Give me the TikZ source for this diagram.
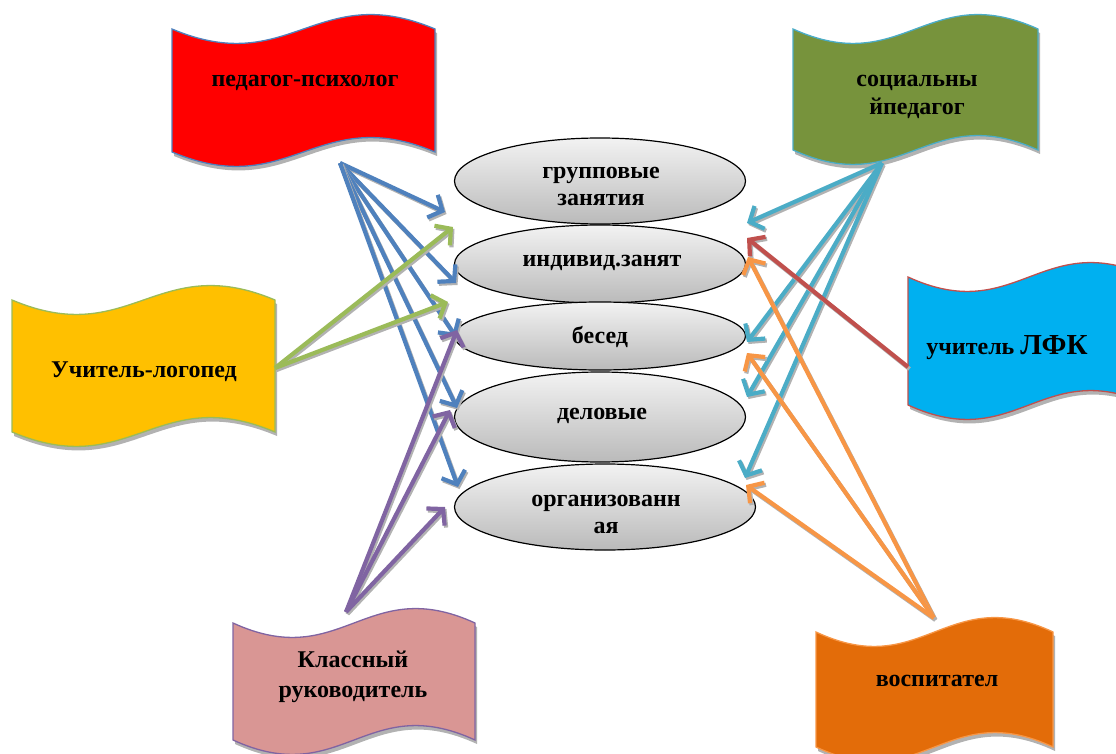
\documentclass[tikz,border=0pt]{standalone}
\usepackage{fontspec}
\setmainfont{Liberation Serif}
\usetikzlibrary{shapes.geometric,arrows.meta}
\definecolor{cblue}{HTML}{4F81BD}
\definecolor{cgreen}{HTML}{9BBB59}
\definecolor{cpurple}{HTML}{8064A2}
\definecolor{ccyan}{HTML}{4BACC6}
\definecolor{cred}{HTML}{C0504D}
\definecolor{corange}{HTML}{F79646}
\definecolor{fred}{HTML}{FF0000}
\definecolor{folive}{HTML}{77933C}
\definecolor{fyellow}{HTML}{FFC000}
\definecolor{fsky}{HTML}{00B0F0}
\definecolor{fpink}{HTML}{D99694}
\definecolor{forange}{HTML}{E36C09}
\newcommand\wavebanner[6]{%
  \fill[black!30] ({#1+2},{#2+4}) .. controls ({#1+2+0.45*(#3-#1)},{#2+4+50}) and ({#1+2+0.55*(#3-#1)},{#2+4-50}) .. ({#3+2},{#2+4}) -- ({#3+2},{#2+4+#4}) .. controls ({#1+2+0.55*(#3-#1)},{#2+4+#4-50}) and ({#1+2+0.45*(#3-#1)},{#2+4+#4+50}) .. ({#1+2},{#2+4+#4}) -- cycle;
  \filldraw[fill=#5, draw=#6, line width=1.3pt] (#1,#2) .. controls ({#1+0.45*(#3-#1)},{#2+50}) and ({#1+0.55*(#3-#1)},{#2-50}) .. (#3,#2) -- (#3,{#2+#4}) .. controls ({#1+0.55*(#3-#1)},{#2+#4-50}) and ({#1+0.45*(#3-#1)},{#2+#4+50}) .. (#1,{#2+#4}) -- cycle;
}
\tikzset{
  lbl/.style={font=\bfseries\fontsize{24}{27}\selectfont, align=center, text=black, inner sep=0pt, anchor=base},
  ell/.style={ellipse, draw=black, line width=1.2pt, top color=black!5, bottom color=black!27, inner sep=0pt},
  arr/.style={line width=4.2pt, draw=#1, -{Straight Barb[length=11pt,width=25pt]},
    preaction={draw=black!30, line width=4.2pt, -{Straight Barb[length=11pt,width=25pt]}, transform canvas={shift={(1.5pt,-2pt)}}}},
}
\begin{document}
\begin{tikzpicture}[x=1pt,y=-1pt]
\useasboundingbox (0,0) rectangle (1116,754);
\clip (0,0) rectangle (1116,754);
% banners
\wavebanner{172}{29}{435}{123}{fred}{cblue}
\wavebanner{793}{29}{1038}{121}{folive}{ccyan}
\wavebanner{12}{300}{275}{132}{fyellow}{cgreen}
\wavebanner{908}{277}{1150}{128}{fsky}{cred}
\wavebanner{233}{623}{475}{117}{fpink}{cpurple}
\wavebanner{816}{632}{1053}{115}{forange}{corange}
\node[lbl] (psy) at (305,87) {педагог-психолог};
\node[lbl] (soc) at (917,115) {социальны\\[1pt]йпедагог};
\node[lbl] (log) at (144,377) {Учитель-логопед};
\node[lbl] (lfk) at (1007,354) {учитель {\fontsize{29}{32}\selectfont ЛФК}};
\node[lbl] (kl) at (353,697) {Классный\\[3pt]руководитель};
\node[lbl] (vos) at (937,686) {воспитател};
% ellipses
\node[ell, minimum width=291, minimum height=86] (e1) at (600,181) {};
\node[ell, minimum width=291, minimum height=78] (e2) at (600,264) {};
\node[ell, minimum width=291, minimum height=68] (e3) at (600,336) {};
\node[ell, minimum width=291, minimum height=90] (e4) at (600,417) {};
\node[ell, minimum width=301, minimum height=86] (e5) at (605,507) {};
\node[lbl] (t1) at (601,206) {групповые\\занятия};
\node[lbl] (t2) at (602,266) {индивид.занят};
\node[lbl] (t3) at (600,343) {бесед};
\node[lbl] (t4) at (602,419) {деловые};
\node[lbl] (t5) at (606,533) {организованн\\ая};
% arrow sources
\coordinate (sPsy) at (340,163);
\coordinate (sLog) at (275,368);
\coordinate (sKl) at (346,612);
\coordinate (sSoc) at (882,163);
\coordinate (sLfk) at (908,367);
\coordinate (sVos) at (934,618);
% arrow targets
\coordinate (b1) at (445,212);
\coordinate (b2) at (456,283);
\coordinate (b3) at (456,337);
\coordinate (b4) at (457,408);
\coordinate (b5) at (458,487);
\coordinate (g1) at (453,227);
\coordinate (g2) at (448,302);
\coordinate (p1) at (457,330);
\coordinate (p2) at (450,410);
\coordinate (p3) at (445,507);
\coordinate (c1) at (747,223);
\coordinate (c2) at (747,342);
\coordinate (c3) at (747,397);
\coordinate (c4) at (745,478);
\coordinate (r1) at (747,238);
\coordinate (o1) at (748,257);
\coordinate (o2) at (747,353);
\coordinate (o3) at (746,485);
% arrows
\foreach \t in {b1,b2,b3,b4,b5} \draw[arr=cblue] (sPsy) -- (\t);
\foreach \t in {g1,g2} \draw[arr=cgreen] (sLog) -- (\t);
\foreach \t in {p1,p2,p3} \draw[arr=cpurple] (sKl) -- (\t);
\foreach \t in {c1,c2,c3,c4} \draw[arr=ccyan] (sSoc) -- (\t);
\draw[arr=cred] (sLfk) -- (r1);
\foreach \t in {o1,o2,o3} \draw[arr=corange] (sVos) -- (\t);
\end{tikzpicture}
\end{document}
